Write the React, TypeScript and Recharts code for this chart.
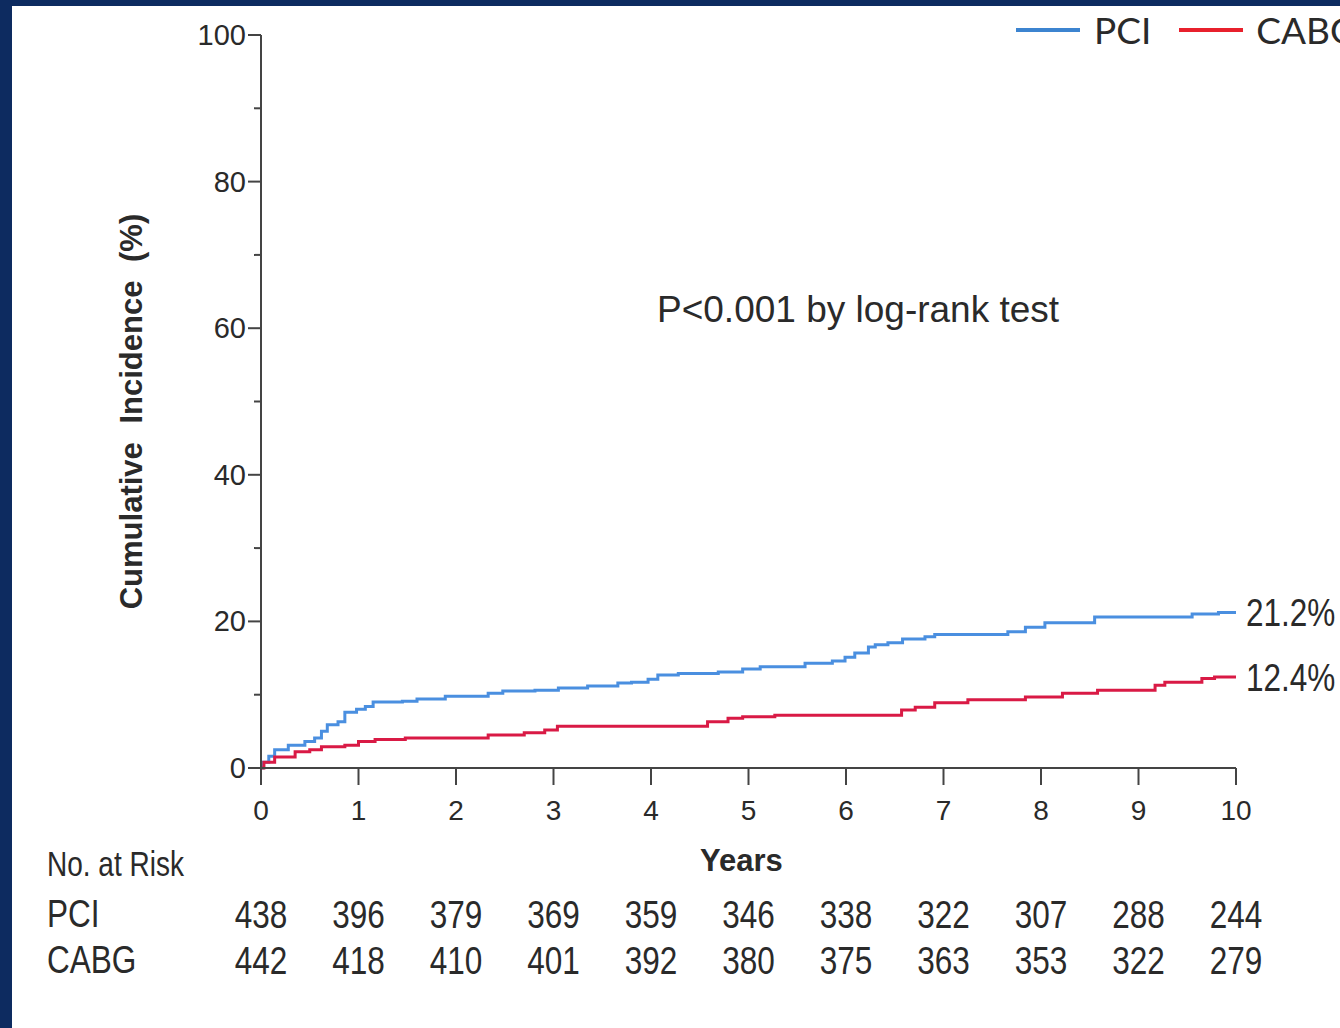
import { LineChart, Line, XAxis, YAxis, Legend } from "recharts";

// Kaplan-Meier cumulative incidence
const pciYears = [0, 0.02, 0.08, 0.14, 0.28, 0.45, 0.55, 0.62, 0.68, 0.79, 0.86, 0.98, 1.07, 1.15, 1.45, 1.6, 1.89, 2.33, 2.48, 2.81, 3.05, 3.35, 3.66, 3.8, 3.97, 4.07, 4.28, 4.69, 4.94, 5.12, 5.58, 5.86, 5.99, 6.09, 6.23, 6.3, 6.43, 6.58, 6.81, 6.91, 7.66, 7.84, 8.04, 8.55, 9.55, 9.82, 10];
const pciIncidence = [0, 0.8, 1.6, 2.5, 3.1, 3.6, 4.1, 5.0, 5.9, 6.3, 7.6, 8.0, 8.4, 9.0, 9.1, 9.4, 9.8, 10.2, 10.5, 10.6, 10.9, 11.2, 11.6, 11.7, 12.1, 12.7, 12.9, 13.1, 13.5, 13.8, 14.3, 14.6, 15.1, 15.7, 16.5, 16.8, 17.1, 17.6, 17.9, 18.2, 18.6, 19.2, 19.8, 20.6, 21.0, 21.2, 21.2];

const cabgYears = [0, 0.03, 0.14, 0.35, 0.5, 0.62, 0.86, 1.0, 1.17, 1.48, 2.33, 2.7, 2.91, 3.04, 4.58, 4.79, 4.94, 5.27, 6.57, 6.71, 6.91, 7.25, 7.84, 8.22, 8.58, 9.17, 9.27, 9.65, 9.78, 10];
const cabgIncidence = [0, 0.8, 1.5, 2.2, 2.5, 2.9, 3.1, 3.6, 3.9, 4.1, 4.5, 4.8, 5.2, 5.7, 6.3, 6.8, 7.0, 7.2, 7.9, 8.3, 8.9, 9.3, 9.7, 10.2, 10.6, 11.3, 11.7, 12.2, 12.4, 12.4];

const endLabels = { PCI: "21.2%", CABG: "12.4%" };

const yearTicks = [0, 1, 2, 3, 4, 5, 6, 7, 8, 9, 10];
const yTicks = [0, 10, 20, 30, 40, 50, 60, 70, 80, 90, 100];
const pciAtRisk = [438, 396, 379, 369, 359, 346, 338, 322, 307, 288, 244];
const cabgAtRisk = [442, 418, 410, 401, 392, 380, 375, 363, 353, 322, 279];

const pciData = pciYears.map((t, i) => ({ t, v: pciIncidence[i] }));
const cabgData = cabgYears.map((t, i) => ({ t, v: cabgIncidence[i] }));

const NAVY = "#0d2b60";
const BLUE = "#4a8fe0";
const RED = "#d91a45";
const INK = "#2a2a2a";
const REG = "'Liberation Sans', Arial, sans-serif";
const SQUEEZE = 0.83; // the table and end labels use a condensed face

// condensed svg text: squeeze horizontally around its anchor point
const Narrow = ({ x, y, anchor, size, children }: any) => (
  <text transform={`translate(${x}, ${y}) scale(${SQUEEZE}, 1)`} x={0} y={0} textAnchor={anchor}
    dominantBaseline="central" fontFamily={REG} fontSize={size} fill={INK}>
    {children}
  </text>
);

const YTick = (props: any) => {
  const { x, y, payload } = props;
  const major = payload.value % 20 === 0;
  return (
    <g>
      <line x1={x - (major ? 13 : 7)} x2={x} y1={y} y2={y} stroke="#444" strokeWidth={2} />
      {major && (
        <text x={x - 15} y={y} textAnchor="end" dominantBaseline="central" fontFamily={REG} fontSize={29} fill={INK}>
          {payload.value}
        </text>
      )}
    </g>
  );
};

// year tick with the numbers at risk underneath
const XTick = (props: any) => {
  const { x, y, payload, index } = props;
  return (
    <g>
      <line x1={x} x2={x} y1={y} y2={y + 17} stroke="#444" strokeWidth={2} />
      <text x={x} y={y + 42} textAnchor="middle" dominantBaseline="central" fontFamily={REG} fontSize={28} fill={INK}>
        {payload.value}
      </text>
      <Narrow x={x} y={y + 146} anchor="middle" size={38}>{pciAtRisk[index]}</Narrow>
      <Narrow x={x} y={y + 192} anchor="middle" size={38}>{cabgAtRisk[index]}</Narrow>
    </g>
  );
};

const endLabel = (text: string, last: number) => (props: any) => {
  const { x, y, index } = props;
  if (index !== last) return null;
  return <Narrow x={x + 10} y={y} anchor="start" size={38}>{text}</Narrow>;
};

const YTitle = (props: any) => {
  const { viewBox } = props;
  const cx = viewBox.x + viewBox.width - 130;
  const cy = viewBox.y + viewBox.height / 2 + 10;
  return (
    <text x={cx} y={cy} transform={`rotate(-90, ${cx}, ${cy})`} textAnchor="middle" dominantBaseline="central"
      fontFamily={REG} fontWeight="bold" fontSize={31} wordSpacing={10} fill={INK}>
      Cumulative Incidence (%)
    </text>
  );
};

const LegendBox = () => (
  <div style={{ display: "flex", alignItems: "center", fontFamily: "Lato, 'Liberation Sans', sans-serif", fontSize: 37, color: INK }}>
    <svg width={64} height={10} style={{ marginRight: 14 }}>
      <line x1={0} x2={64} y1={5} y2={5} stroke="#3c84d0" strokeWidth={4} />
    </svg>
    <span style={{ marginRight: 28 }}>PCI</span>
    <svg width={64} height={10} style={{ marginRight: 13 }}>
      <line x1={0} x2={64} y1={5} y2={5} stroke="#e8202c" strokeWidth={4} />
    </svg>
    <span style={{ whiteSpace: "nowrap" }}>CABG</span>
  </div>
);

const txt = (extra: any) => ({
  position: "absolute" as const, fontFamily: REG, fontSize: 38, color: INK, lineHeight: 1,
  whiteSpace: "nowrap" as const, transformOrigin: "left center", ...extra,
});

export default function App() {
  return (
    <div style={{ position: "fixed", left: 0, top: 0, width: 1340, height: 1028, background: NAVY, overflow: "hidden" }}>
      <div style={{ position: "absolute", left: 12, top: 6, right: 0, bottom: 0, background: "#fff" }} />
      <div style={{ position: "absolute", left: 0, top: 0 }}>
        <LineChart width={1340} height={1028} margin={{ top: 35, right: 104, bottom: 40, left: 141 }}>
          <XAxis xAxisId="t" dataKey="t" type="number" domain={[0, 10]} ticks={yearTicks} allowDataOverflow
            height={220} tickSize={0} tickMargin={0} tick={<XTick />} axisLine={{ stroke: "#444", strokeWidth: 2 }} />
          <YAxis type="number" domain={[0, 100]} ticks={yTicks} width={120} tickSize={0} tickMargin={0}
            tick={<YTick />} axisLine={{ stroke: "#444", strokeWidth: 2 }} label={<YTitle />} />
          <Legend layout="vertical" align="center" verticalAlign="middle" content={<LegendBox />}
            wrapperStyle={{ position: "absolute", top: 7, left: 1016, width: 400 }} />
          <Line xAxisId="t" name="PCI" data={pciData} dataKey="v" type="stepAfter" stroke={BLUE} strokeWidth={3}
            dot={false} isAnimationActive={false} label={endLabel(endLabels.PCI, pciData.length - 1)} />
          <Line xAxisId="t" name="CABG" data={cabgData} dataKey="v" type="stepAfter" stroke={RED} strokeWidth={3}
            dot={false} isAnimationActive={false} label={endLabel(endLabels.CABG, cabgData.length - 1)} />
        </LineChart>
      </div>
      <div style={txt({ left: 657, top: 291, fontSize: 37 })}>P&lt;0.001 by log-rank test</div>
      <div style={txt({ left: 47, top: 846, fontSize: 35, transform: "scaleX(0.8)" })}>No. at Risk</div>
      <div style={txt({ left: 700, top: 845, fontWeight: "bold", fontSize: 31 })}>Years</div>
      <div style={txt({ left: 47, top: 895, transform: `scaleX(${SQUEEZE})` })}>PCI</div>
      <div style={txt({ left: 47, top: 941, transform: `scaleX(${SQUEEZE})` })}>CABG</div>
    </div>
  );
}
